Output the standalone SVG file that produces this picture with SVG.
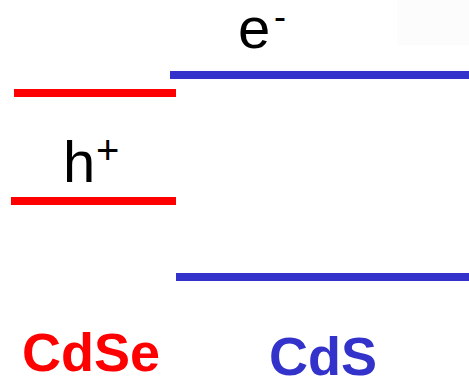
<svg xmlns="http://www.w3.org/2000/svg" width="469" height="377" viewBox="0 0 469 377">
<style>
.red{stroke:#ff0000;stroke-width:8;fill:none}
.blue{stroke:#3333cc;stroke-width:8;fill:none}
.lbl{font-family:"Liberation Sans",Arial,sans-serif;fill:#000}
.mat{font-family:"Liberation Sans",Arial,sans-serif;font-weight:bold}
</style>
<rect x="397" y="0" width="72" height="45" fill="#fcfcfc"/>
<g id="connectors">
<line id="cdse-cb" class="red" x1="14" y1="93" x2="176" y2="93"/>
<line id="cdse-vb" class="red" x1="11" y1="201" x2="176" y2="201"/>
<line id="cds-cb" class="blue" x1="170" y1="75" x2="469" y2="75"/>
<line id="cds-vb" class="blue" x1="176" y1="277" x2="469" y2="277"/>
</g>
<g id="electron">
<text class="lbl" x="238" y="48" font-size="58">e</text>
<text class="lbl" x="274" y="29" font-size="36">-</text>
</g>
<g id="hole">
<text class="lbl" x="63" y="182" font-size="58">h</text>
<text class="lbl" x="96" y="164" font-size="40">+</text>
</g>
<g id="cdse">
<text class="mat" x="22" y="371" font-size="54" fill="#ff0000">CdSe</text>
</g>
<g id="cds">
<text class="mat" x="269" y="375" font-size="54" fill="#3333cc">CdS</text>
</g>
</svg>
